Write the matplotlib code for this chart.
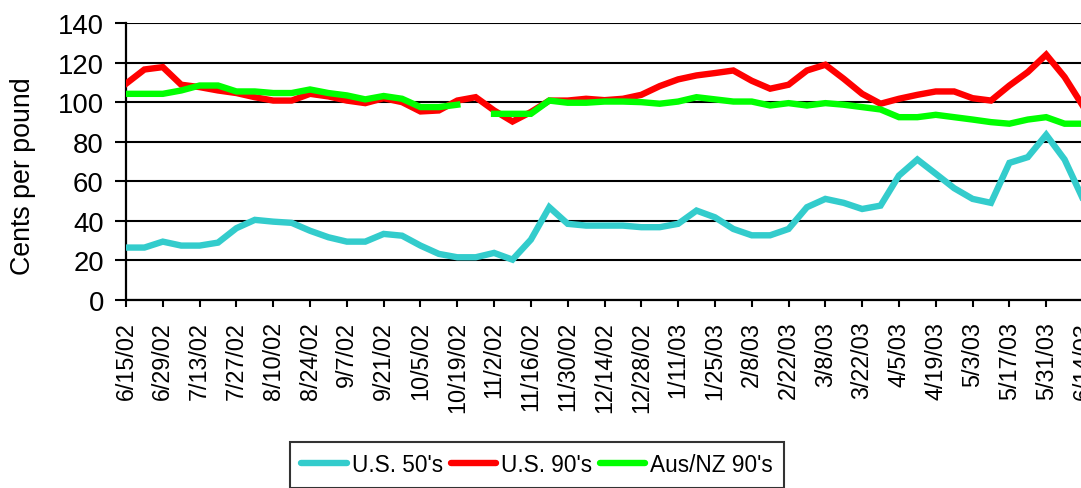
import matplotlib
matplotlib.use("Agg")
import matplotlib.pyplot as plt
import numpy as np

plt.rcParams['font.family'] = ['Liberation Sans', 'DejaVu Sans']

tick_labels = ["6/15/02", "6/29/02", "7/13/02", "7/27/02", "8/10/02", "8/24/02", "9/7/02",
               "9/21/02", "10/5/02", "10/19/02", "11/2/02", "11/16/02", "11/30/02", "12/14/02",
               "12/28/02", "1/11/03", "1/25/03", "2/8/03", "2/22/03", "3/8/03", "3/22/03",
               "4/5/03", "4/19/03", "5/3/03", "5/17/03", "5/31/03", "6/14/03"]

us50 = [26.5, 26.5, 29.5, 27.5, 27.5, 29, 36.3, 40.5, 39.6, 39, 35, 31.7, 29.5, 29.5,
        33.4, 32.5, 27.5, 23.3, 21.6, 21.6, 23.8, 20.4, 30.5, 46.9, 38.5, 37.6, 37.6, 37.6,
        36.8, 36.8, 38.5, 45.2, 41.8, 35.9, 32.7, 32.7, 35.9, 46.9, 51.1, 49.1, 46, 47.7,
        62.9, 71, 63.8, 56.5, 51.1, 49.1, 69.3, 72.2, 83.5, 71, 51]

us90 = [109.3, 116.5, 117.7, 108.8, 107.6, 105.9, 104.6, 102.5, 100.8, 100.8, 104.2, 102.9,
        100.8, 99.5, 102, 100, 95.3, 95.8, 100.8, 102.5, 95.8, 90.2, 95, 100.8, 100.8, 101.7,
        101, 101.7, 103.7, 108.1, 111.5, 113.5, 114.7, 116, 110.8, 106.8, 108.8, 116, 118.9,
        111.8, 104.2, 99.2, 101.7, 103.7, 105.4, 105.4, 102, 100.8, 108.4, 115.2, 124, 112.7, 98]

ausnz90 = [104.2, 104.2, 104.2, 105.9, 108.4, 108.4, 105.4, 105.4, 104.6, 104.6, 106.4, 104.6,
           103.4, 101.4, 103.1, 101.7, 97.5, 97.5, 98.7, np.nan, 94.1, 94.1, 94.1, 100.8, 99.7,
           99.7, 100.3, 100.3, 100, 99.2, 100.3, 102.5, 101.4, 100.3, 100.3, 98.3, 99.5, 98.3,
           99.5, 98.7, 97.5, 96.3, 92.4, 92.4, 93.6, 92.4, 91.2, 89.9, 89.1, 91.2, 92.4, 89.1, 89.1]

series_names = ["U.S. 50's", "U.S. 90's", "Aus/NZ 90's"]
colors = ["#33CCCC", "#FF0000", "#00FF00"]

W, H = 1081, 489
fig = plt.figure(figsize=(W / 100, H / 100), dpi=100)
left, right, top, bottom = 126, 1083, 24, 301
ax = fig.add_axes([left / W, 1 - bottom / H, (right - left) / W, (bottom - top) / H])

x = np.arange(len(us50))
for vals, name, c in zip([us50, us90, ausnz90], series_names, colors):
    ax.plot(x, vals, color=c, lw=4.6, label=name, solid_joinstyle='miter', zorder=3)

ax.set_xlim(0, len(us50) - 1)
ax.set_ylim(0, 140)
ax.set_yticks(np.arange(0, 141, 20))
ax.yaxis.grid(True, color='black', lw=1.5)
ax.set_axisbelow(True)
ax.set_xticks(np.arange(0, len(us50), 2))
ax.set_xticklabels(tick_labels, rotation=90, fontsize=16.8, va='top', ha='center')
ax.tick_params(axis='y', labelsize=19.8, length=8, width=1.5, direction='out', pad=8)
ax.tick_params(axis='x', length=5, width=1.5, direction='out', pad=10)
for s in ['top', 'right']:
    ax.spines[s].set_visible(False)
for s in ['left', 'bottom']:
    ax.spines[s].set_linewidth(1.6)
ax.set_ylabel("Cents per pound", fontsize=19.3)
ax.yaxis.set_label_coords(-(left - 36) / (right - left), 0.45)

leg = fig.legend(loc='upper left', bbox_to_anchor=(290 / W, 1 - 443 / H), ncol=3,
                 fontsize=16.3, handlelength=2.0, handletextpad=0.22, columnspacing=0.35,
                 frameon=True, fancybox=False, edgecolor='black', borderpad=0.5,
                 borderaxespad=0)
leg.get_frame().set_linewidth(1.5)
for line in leg.get_lines():
    line.set_linewidth(4.6)
    line.set_solid_capstyle('round')

fig.savefig("out.png", dpi=100)
